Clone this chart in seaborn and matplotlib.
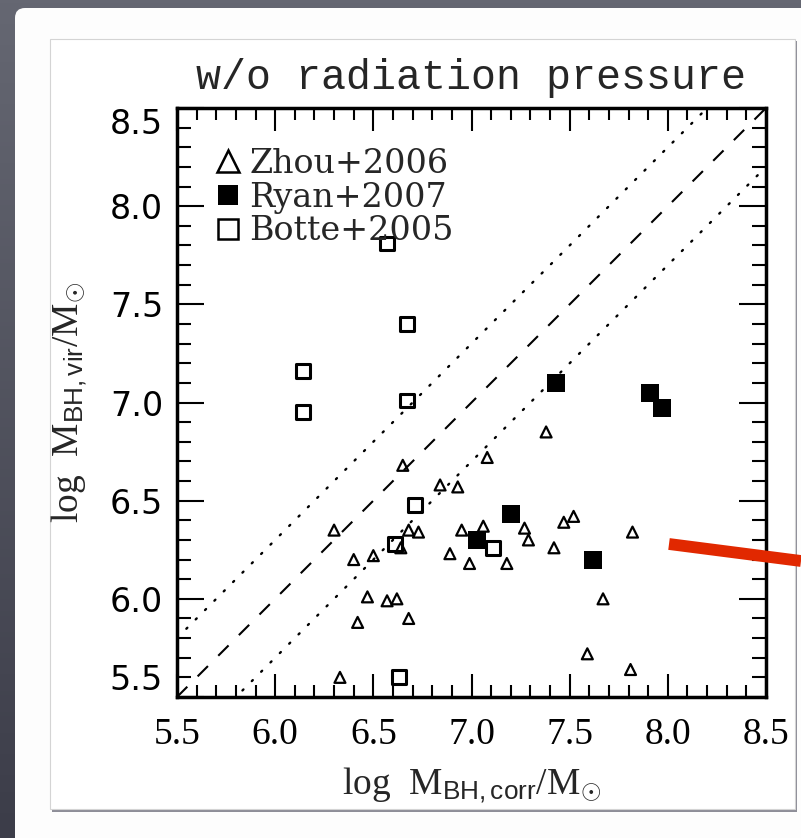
import numpy as np
import matplotlib
matplotlib.use("Agg")
import matplotlib.pyplot as plt
from matplotlib.lines import Line2D
from matplotlib.patches import Rectangle, FancyBboxPatch
from matplotlib.colors import LinearSegmentedColormap
from matplotlib.ticker import MultipleLocator
import seaborn as sns

# ---- data: log black-hole masses ----
zhou_x = [6.30, 6.40, 6.50, 6.47, 6.42, 6.57, 6.62, 6.68, 6.33, 6.65, 6.68,
          6.73, 6.64, 6.84, 6.93, 6.95, 6.89, 6.99, 7.06, 7.08, 7.18, 7.27,
          7.29, 7.38, 7.42, 7.47, 7.52, 7.82, 7.67, 7.59, 7.81]
zhou_y = [6.35, 6.20, 6.22, 6.01, 5.88, 5.99, 6.00, 5.90, 5.60, 6.68, 6.35,
          6.34, 6.26, 6.58, 6.57, 6.35, 6.23, 6.18, 6.37, 6.72, 6.18, 6.36,
          6.30, 6.85, 6.26, 6.39, 6.42, 6.34, 6.00, 5.72, 5.64]

ryan_x = [7.43, 7.91, 7.97, 7.20, 7.03, 7.62]
ryan_y = [7.10, 7.05, 6.97, 6.43, 6.30, 6.20]

botte_x = [6.57, 6.67, 6.14, 6.14, 6.67, 6.71, 6.61, 7.11, 6.63]
botte_y = [7.81, 7.40, 7.16, 6.95, 7.01, 6.48, 6.28, 6.26, 5.60]

series_labels = ["Zhou+2006", "Ryan+2007", "Botte+2005"]
title_text = "w/o radiation pressure"
x_label = r"log  M$_{\mathsf{BH,corr}}$/M$_{\odot}$"
y_label = r"log  M$_{\mathsf{BH,vir}}$/M$_{\odot}$"
tick_values = [5.5, 6.0, 6.5, 7.0, 7.5, 8.0, 8.5]
tick_labels = ["5.5", "6.0", "6.5", "7.0", "7.5", "8.0", "8.5"]
axis_range = (5.5, 8.5)
scatter_dex = 0.3

sns.set_style("ticks")
plt.rcParams.update({
    "font.family": ["Liberation Serif", "DejaVu Serif"],
    "mathtext.fontset": "custom",
    "mathtext.rm": "Liberation Serif",
    "mathtext.sf": "Liberation Sans",
    "mathtext.it": "Liberation Serif:italic",
    "mathtext.bf": "Liberation Serif:bold",
})

fig = plt.figure(figsize=(8.01, 8.38), dpi=100)

# ---- slide backdrop ----
bg = fig.add_axes([0, 0, 1, 1], zorder=-10)
bg.set_xlim(0, 801)
bg.set_ylim(838, 0)
bg.axis("off")
slate = LinearSegmentedColormap.from_list("slate", ["#656772", "#3c3d49"])
bg.imshow(np.linspace(0, 1, 200)[:, None], extent=[0, 801, 838, 0],
          cmap=slate, aspect="auto")
bg.add_patch(FancyBboxPatch((15, 8), 820, 860,
                            boxstyle="round,pad=0,rounding_size=10",
                            fc="#fdfdfd", ec="none"))
bg.add_patch(Rectangle((51.5, 41), 745.5, 770.5, fc="#8e8e98", ec="none"))
bg.add_patch(Rectangle((50, 39), 745, 770, fc="white", ec="#d4d4d4", lw=0.8))

# ---- main panel ----
ax = fig.add_axes([177 / 801, 1 - 697 / 838, 589 / 801, 589 / 838])
ax.set_facecolor("none")

diag = np.array(axis_range)
ax.plot(diag, diag, color="black", lw=1.5, ls=(0, (7, 7)), zorder=1)
ax.plot(diag, diag + scatter_dex, color="black", lw=1.7,
        ls=(0, (0.6, 5.0)), dash_capstyle="round", zorder=1)
ax.plot(diag, diag - scatter_dex, color="black", lw=1.7,
        ls=(0, (0.6, 5.0)), dash_capstyle="round", zorder=1)

sns.scatterplot(x=zhou_x, y=zhou_y, marker="^", s=62, facecolor="none",
                edgecolor="black", linewidth=1.6, ax=ax, zorder=3)
sns.scatterplot(x=ryan_x, y=ryan_y, marker="s", s=150, color="black",
                linewidth=0, ax=ax, zorder=3)
sns.scatterplot(x=botte_x, y=botte_y, marker="s", s=100, facecolor="none",
                edgecolor="black", linewidth=2.2, ax=ax, zorder=3)

ax.set_xlim(*axis_range)
ax.set_ylim(*axis_range)
ax.set_xticks(tick_values, labels=tick_labels,
              fontfamily="Liberation Serif", fontsize=27)
ax.set_yticks(tick_values, labels=tick_labels,
              fontfamily="DejaVu Sans", fontsize=24)
ax.xaxis.set_minor_locator(MultipleLocator(0.1))
ax.yaxis.set_minor_locator(MultipleLocator(0.1))
ax.tick_params(which="both", direction="in", top=True, right=True,
               width=1.5, color="black", labelcolor="black")
ax.tick_params(axis="x", which="major", length=16.5, pad=15)
ax.tick_params(axis="x", which="minor", length=8.6)
ax.tick_params(axis="y", which="major", length=19.5, pad=10)
ax.tick_params(axis="y", which="minor", length=10)
ylabs = ax.get_yticklabels()
ylabs[0].set_va("bottom")
ylabs[-1].set_va("top")
for sp in ax.spines.values():
    sp.set_linewidth(2.5)
    sp.set_color("black")

ax.set_title(title_text, fontfamily="Liberation Mono", fontsize=30, pad=14)
ax.set_xlabel(x_label, fontfamily="Liberation Serif", fontsize=27)
ax.set_ylabel(y_label, fontfamily="Liberation Serif", fontsize=27)
ax.xaxis.set_label_coords(0.5, -0.115)
ax.yaxis.set_label_coords(-0.150, 0.5)

handles = [
    Line2D([], [], ls="none", marker="^", ms=16, mfc="none", mec="black", mew=1.8),
    Line2D([], [], ls="none", marker="s", ms=15, mfc="black", mec="black", mew=0),
    Line2D([], [], ls="none", marker="s", ms=14, mfc="none", mec="black", mew=1.8),
]
ax.legend(handles, series_labels, loc="upper left", bbox_to_anchor=(0.0645, 0.932),
          frameon=False, prop={"family": "DejaVu Serif", "size": 24},
          handlelength=0.78, handletextpad=0.25, labelspacing=0.05,
          borderpad=0, borderaxespad=0)

# slide annotation stroke
fig.add_artist(Line2D([669, 801], [544, 561], transform=bg.transData,
                      color="#e12800", lw=8.5, solid_capstyle="butt", zorder=20))

fig.savefig("out.png", dpi=100)
